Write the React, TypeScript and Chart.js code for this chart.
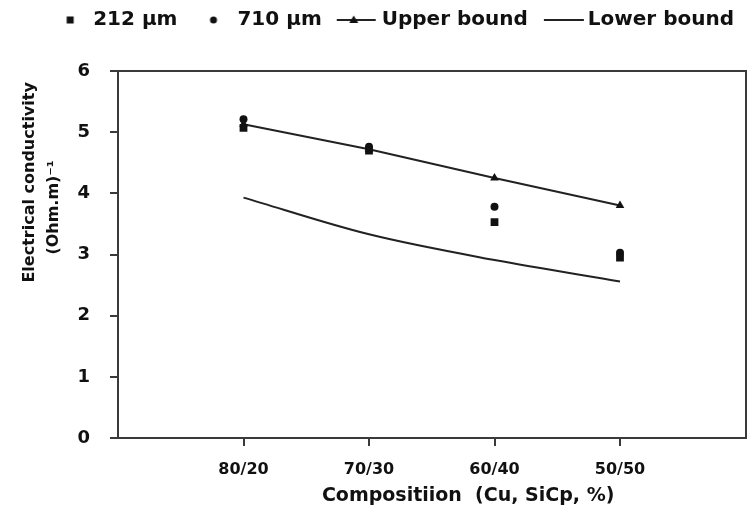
import React, { useEffect, useRef } from "react";
import { Chart, registerables } from "chart.js";

Chart.register(...registerables);

// ---- data ----
const categories = ["80/20", "70/30", "60/40", "50/50"];
const yTickValues = [0, 1, 2, 3, 4, 5, 6];
const series212 = [5.07, 4.7, 3.53, 2.95];
const series710 = [5.21, 4.76, 3.78, 3.03];
const upperBound = [5.13, 4.72, 4.25, 3.8];
const lowerBound = [3.93, 3.33, 2.91, 2.56];
const legendLabels = ["212 µm", "710 µm", "Upper bound", "Lower bound"];
const xTitle = "Compositiion  (Cu, SiCp, %)";
const yTitleLines = ["Electrical conductivity", "(Ohm.m)⁻¹"];

// ---- styles ----
const FONT = "'DejaVu Sans', sans-serif";
const INK = "#111111";
const LINE = "#222222";
const AXIS = "#3a3a3a";

function makeLegendIcon(kind: string): HTMLCanvasElement {
  const c = document.createElement("canvas");
  c.width = 60;
  c.height = 20;
  const g = c.getContext("2d")!;
  g.fillStyle = INK;
  g.strokeStyle = LINE;
  g.lineWidth = 2;
  if (kind === "rect") {
    g.fillRect(34.5, 6.5, 7, 7);
  } else if (kind === "circle") {
    g.beginPath();
    g.arc(37, 10, 3.5, 0, Math.PI * 2);
    g.fill();
  } else if (kind === "tri") {
    g.beginPath();
    g.moveTo(16, 10);
    g.lineTo(55, 10);
    g.stroke();
    g.beginPath();
    g.moveTo(33, 5.5);
    g.lineTo(28.5, 13);
    g.lineTo(37.5, 13);
    g.closePath();
    g.fill();
  } else {
    g.beginPath();
    g.moveTo(17, 10);
    g.lineTo(57, 10);
    g.stroke();
  }
  return c;
}

export default function App() {
  const ref = useRef<HTMLCanvasElement>(null);

  useEffect(() => {
    document.body.style.margin = "0";
    const canvas = ref.current!;
    const icons = [
      makeLegendIcon("rect"),
      makeLegendIcon("circle"),
      makeLegendIcon("tri"),
      makeLegendIcon("line"),
    ];
    const pts = (vals: number[]) => vals.map((y, i) => ({ x: i + 1, y }));

    const chart = new Chart(canvas, {
      type: "line",
      data: {
        datasets: [
          {
            label: legendLabels[0],
            data: pts(series212),
            showLine: false,
            pointStyle: "rect",
            pointRadius: 5.5,
            pointBackgroundColor: INK,
            pointBorderWidth: 0,
            borderColor: INK,
            backgroundColor: INK,
          },
          {
            label: legendLabels[1],
            data: pts(series710),
            showLine: false,
            pointStyle: "circle",
            pointRadius: 4,
            pointBackgroundColor: INK,
            pointBorderWidth: 0,
            borderColor: INK,
            backgroundColor: INK,
          },
          {
            label: legendLabels[2],
            data: pts(upperBound),
            pointStyle: "triangle",
            pointRadius: 5,
            pointBackgroundColor: INK,
            pointBorderWidth: 0,
            borderColor: LINE,
            backgroundColor: INK,
            borderWidth: 2,
          },
          {
            label: legendLabels[3],
            data: pts(lowerBound),
            pointRadius: 0,
            borderColor: LINE,
            backgroundColor: LINE,
            borderWidth: 2,
            cubicInterpolationMode: "monotone",
          },
        ],
      },
      options: {
        animation: false,
        responsive: false,
        devicePixelRatio: 1,
        layout: { padding: { left: 0, right: 2, top: 2, bottom: 0 } },
        plugins: {
          legend: {
            position: "top",
            align: "end",
            labels: {
              usePointStyle: true,
              pointStyleWidth: 42,
              padding: 8,
              color: INK,
              font: { family: FONT, size: 20, weight: "bold" },
              generateLabels: (ch: any) =>
                Chart.defaults.plugins.legend.labels
                  .generateLabels(ch)
                  .map((it: any, i: number) => ({
                    ...it,
                    text: i === legendLabels.length - 1 ? it.text + " " : it.text,
                    pointStyle: icons[i],
                  })),
            },
          },
          tooltip: { enabled: false },
        },
        scales: {
          x: {
            type: "linear",
            position: "bottom",
            min: 0,
            max: categories.length + 1,
            afterBuildTicks: (s: any) => {
              s.ticks = categories.map((_, i) => ({ value: i + 1 }));
            },
            afterFit: (s: any) => {
              s.height = 77;
            },
            ticks: {
              callback: (_v: any, i: number) => categories[i],
              padding: 14,
              color: INK,
              maxRotation: 0,
              autoSkip: false,
              font: { family: FONT, size: 16, weight: "bold" },
            },
            grid: { drawOnChartArea: false, drawTicks: true, tickLength: 8, color: AXIS, lineWidth: 2 },
            border: { color: AXIS, width: 2 },
            title: {
              display: true,
              text: " ".repeat(11) + xTitle,
              color: INK,
              font: { family: FONT, size: 19, weight: "bold" },
              padding: { top: 0, bottom: 8 },
            },
          },
          y: {
            type: "linear",
            position: "left",
            min: 0,
            max: 6,
            afterBuildTicks: (s: any) => {
              s.ticks = yTickValues.map((v) => ({ value: v }));
            },
            afterFit: (s: any) => {
              s.width = 118;
            },
            ticks: {
              padding: 20,
              color: INK,
              font: { family: FONT, size: 18, weight: "bold" },
            },
            grid: { drawOnChartArea: false, drawTicks: true, tickLength: 8, color: AXIS, lineWidth: 2 },
            border: { color: AXIS, width: 2 },
            title: {
              display: true,
              align: "end",
              text: [yTitleLines[0] + "  ", yTitleLines[1] + " ".repeat(16)],
              color: INK,
              font: { family: FONT, size: 16, weight: "bold", lineHeight: 1.5 },
              padding: { top: 18, bottom: 0 },
            },
          },
          xTop: {
            type: "linear",
            position: "top",
            min: 0,
            max: 1,
            ticks: { display: false },
            grid: { display: false, drawTicks: false },
            border: { display: true, color: AXIS, width: 2 },
            afterFit: (s: any) => {
              s.height = 31;
            },
          },
          yRight: {
            type: "linear",
            position: "right",
            min: 0,
            max: 1,
            ticks: { display: false },
            grid: { display: false, drawTicks: false },
            border: { display: true, color: AXIS, width: 2 },
            afterFit: (s: any) => {
              s.width = 0;
            },
          },
        },
      } as any,
    });

    return () => chart.destroy();
  }, []);

  return (
    <div style={{ width: 751, height: 515 }}>
      <canvas ref={ref} width={751} height={515} style={{ display: "block" }} />
    </div>
  );
}
